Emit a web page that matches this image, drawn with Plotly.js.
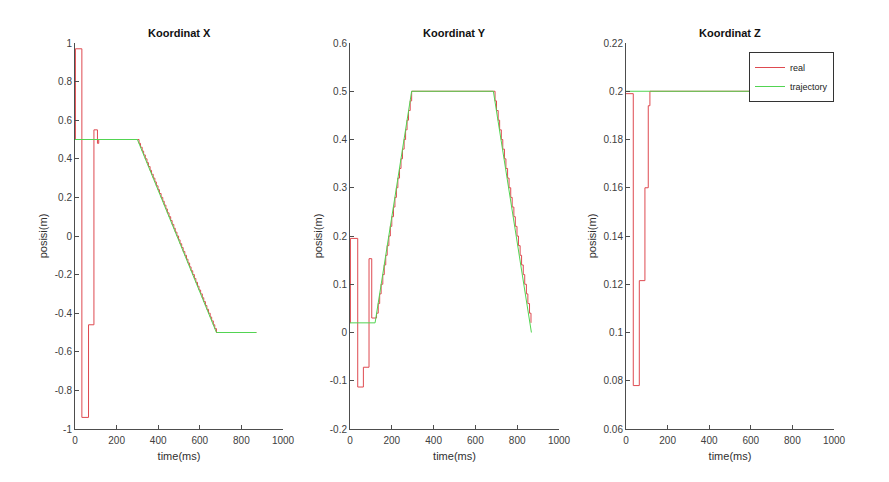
<!DOCTYPE html>
<html>
<head>
<meta charset="utf-8">
<script src="https://cdn.plot.ly/plotly-3.0.1.min.js"></script>
<style>html,body{margin:0;padding:0;background:#fff;}#chart{width:889px;height:482px;}</style>
</head>
<body>
<div id="chart"></div>
<script>
// ---- data (time in ms, position in m) ----
const subplotTitles = ["Koordinat X", "Koordinat Y", "Koordinat Z"];
const seriesNames = ["real", "trajectory"];

const xTrajT = [0, 300, 680, 872];
const xTrajV = [0.5, 0.5, -0.5, -0.5];
const xRealT = [0, 2, 33, 65, 91, 108, 114, 300,
  308, 315, 323, 330, 338, 346, 353, 361, 368, 376,
  384, 391, 399, 406, 414, 422, 429, 437, 444, 452,
  460, 467, 475, 482, 490, 498, 505, 513, 520, 528,
  536, 543, 551, 558, 566, 574, 581, 589, 596, 604,
  612, 619, 627, 634, 642, 650, 657, 665, 672, 680, 872];
const xRealV = [0.5, 0.97, -0.94, -0.46, 0.55, 0.48, 0.5, 0.5,
  0.48, 0.46, 0.44, 0.42, 0.40, 0.38, 0.36, 0.34, 0.32, 0.30,
  0.28, 0.26, 0.24, 0.22, 0.20, 0.18, 0.16, 0.14, 0.12, 0.10,
  0.08, 0.06, 0.04, 0.02, 0.0, -0.02, -0.04, -0.06, -0.08, -0.10,
  -0.12, -0.14, -0.16, -0.18, -0.20, -0.22, -0.24, -0.26, -0.28, -0.30,
  -0.32, -0.34, -0.36, -0.38, -0.40, -0.42, -0.44, -0.46, -0.48, -0.50, -0.50];

const yTrajT = [0, 120, 295, 686, 868];
const yTrajV = [0.02, 0.02, 0.5, 0.5, 0];
const yRealT = [0, 2, 37, 64, 91, 104,
  127, 135, 142, 149, 157, 164, 171, 178, 186, 193, 200, 208, 215, 222, 229, 237,
  244, 251, 259, 266, 273, 280, 288, 295,
  694, 701, 709, 716, 724, 731, 739, 746, 754, 761, 769, 776, 784, 791, 799, 806,
  814, 821, 829, 836, 844, 851, 859, 866];
const yRealV = [0.02, 0.195, -0.113, -0.072, 0.153, 0.03,
  0.04, 0.06, 0.08, 0.10, 0.12, 0.14, 0.16, 0.18, 0.20, 0.22, 0.24, 0.26, 0.28, 0.30, 0.32, 0.34,
  0.36, 0.38, 0.40, 0.42, 0.44, 0.46, 0.48, 0.50,
  0.48, 0.46, 0.44, 0.42, 0.40, 0.38, 0.36, 0.34, 0.32, 0.30, 0.28, 0.26, 0.24, 0.22, 0.20, 0.18,
  0.16, 0.14, 0.12, 0.10, 0.08, 0.06, 0.04, 0.02];

const zTrajT = [0, 872];
const zTrajV = [0.2, 0.2];
const zRealT = [0, 35, 64, 91, 107, 115, 872];
const zRealV = [0.199, 0.078, 0.1215, 0.16, 0.194, 0.2, 0.2];

const xTickVals = [0, 200, 400, 600, 800, 1000];
const xTickText = ["0", "200", "400", "600", "800", "1000"];
const y1TickVals = [-1, -0.8, -0.6, -0.4, -0.2, 0, 0.2, 0.4, 0.6, 0.8, 1];
const y1TickText = ["-1", "-0.8", "-0.6", "-0.4", "-0.2", "0", "0.2", "0.4", "0.6", "0.8", "1"];
const y2TickVals = [-0.2, -0.1, 0, 0.1, 0.2, 0.3, 0.4, 0.5, 0.6];
const y2TickText = ["-0.2", "-0.1", "0", "0.1", "0.2", "0.3", "0.4", "0.5", "0.6"];
const y3TickVals = [0.06, 0.08, 0.1, 0.12, 0.14, 0.16, 0.18, 0.2, 0.22];
const y3TickText = ["0.06", "0.08", "0.1", "0.12", "0.14", "0.16", "0.18", "0.2", "0.22"];

// ---- styling ----
const RED = "#de4a50";
const GREEN = "#52d452";
const AX = "#4d4d4d";
const FONT = "Liberation Sans, Arial, sans-serif";

function realTrace(t, v, xa, ya, show) {
  return {x: t, y: v, xaxis: xa, yaxis: ya, type: "scatter", mode: "lines", name: seriesNames[0],
    line: {color: RED, width: 1, shape: "hv"}, showlegend: show, legendgroup: "r"};
}
function trajTrace(t, v, xa, ya, show) {
  return {x: t, y: v, xaxis: xa, yaxis: ya, type: "scatter", mode: "lines", name: seriesNames[1],
    line: {color: GREEN, width: 1}, showlegend: show, legendgroup: "t"};
}

const data = [
  realTrace(xRealT, xRealV, "x", "y", false),
  trajTrace(xTrajT, xTrajV, "x", "y", false),
  realTrace(yRealT, yRealV, "x2", "y2", false),
  trajTrace(yTrajT, yTrajV, "x2", "y2", false),
  realTrace(zRealT, zRealV, "x3", "y3", true),
  trajTrace(zTrajT, zTrajV, "x3", "y3", true)
];

const W = 889, H = 482;
const xDomains = [[75 / W, 283 / W], [350 / W, 559 / W], [626 / W, 834 / W]];
const yDomain = [1 - 429 / H, 1 - 43 / H];

function xAxis(i) {
  return {
    domain: xDomains[i], range: [0, 1000], anchor: i === 0 ? "y" : "y" + (i + 1),
    tickvals: xTickVals, ticktext: xTickText,
    ticks: "inside", ticklen: 4, tickcolor: AX, tickwidth: 1,
    ticklabelstandoff: 2,
    showline: true, linecolor: AX, linewidth: 1, mirror: false,
    showgrid: false, zeroline: false,
    tickfont: {family: FONT, size: 10, color: "#404040"},
    title: {text: "time(ms)", font: {family: FONT, size: 11, color: "#303030"}, standoff: 7}
  };
}
function yAxis(i, range, vals, text) {
  return {
    domain: yDomain, range: range, anchor: i === 0 ? "x" : "x" + (i + 1),
    tickvals: vals, ticktext: text,
    ticks: "inside", ticklen: 4, tickcolor: AX, tickwidth: 1,
    showline: true, linecolor: AX, linewidth: 1, mirror: false,
    showgrid: false, zeroline: false,
    tickfont: {family: FONT, size: 10, color: "#404040"},
    title: {text: "posisi(m)", font: {family: FONT, size: 11, color: "#303030"}, standoff: 4}
  };
}

const annotations = subplotTitles.map((txt, i) => ({
  text: "<b>" + txt + "</b>", xref: "paper", yref: "paper",
  x: (xDomains[i][0] + xDomains[i][1]) / 2, y: 1 - 33 / H,
  xanchor: "center", yanchor: "middle", showarrow: false,
  font: {family: FONT, size: 11, color: "#111"}
}));

const layout = {
  width: W, height: H,
  margin: {l: 0, r: 0, t: 0, b: 0},
  paper_bgcolor: "#fff", plot_bgcolor: "#fff",
  showlegend: true,
  legend: {
    x: 749 / W, y: 1 - 52 / H, xanchor: "left", yanchor: "top",
    bgcolor: "#fff", bordercolor: "#333", borderwidth: 1,
    font: {family: FONT, size: 9, color: "#222"},
    tracegroupgap: 0, itemwidth: 30
  },
  xaxis: xAxis(0), xaxis2: xAxis(1), xaxis3: xAxis(2),
  yaxis: yAxis(0, [-1, 1], y1TickVals, y1TickText),
  yaxis2: yAxis(1, [-0.2, 0.6], y2TickVals, y2TickText),
  yaxis3: yAxis(2, [0.06, 0.22], y3TickVals, y3TickText),
  annotations: annotations
};

Plotly.newPlot("chart", data, layout, {displayModeBar: false, staticPlot: true});
</script>
</body>
</html>
